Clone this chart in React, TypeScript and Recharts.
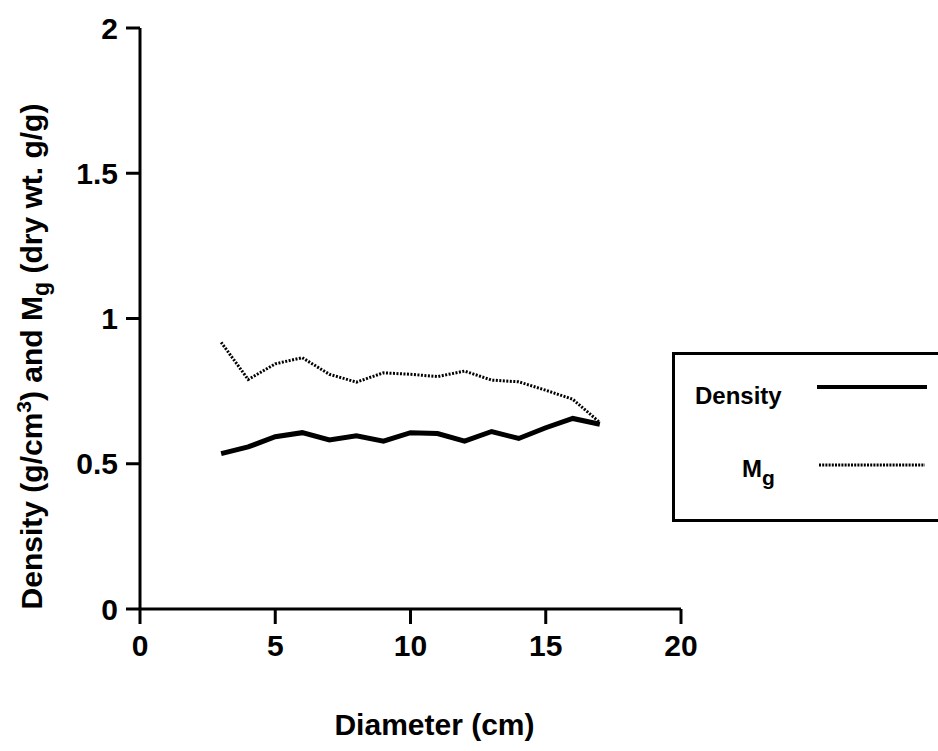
import React from "react";
import { LineChart, Line, XAxis, YAxis, Label } from "recharts";

// diameter classes (cm)
const diameters = [3, 4, 5, 6, 7, 8, 9, 10, 11, 12, 13, 14, 15, 16, 17];
// density, g/cm3
const density = [0.535, 0.558, 0.593, 0.607, 0.582, 0.596, 0.578, 0.607, 0.604, 0.578, 0.611, 0.587, 0.624, 0.656, 0.636];
// Mg, dry wt. g/g
const mg = [0.918, 0.79, 0.844, 0.865, 0.808, 0.781, 0.813, 0.808, 0.8, 0.819, 0.788, 0.782, 0.753, 0.722, 0.642];

const xTicks = [0, 5, 10, 15, 20];
const yTicks = [0, 0.5, 1, 1.5, 2];

const FONT = '"Liberation Sans", Arial, Helvetica, sans-serif';

const data = diameters.map((d, i) => ({ d, density: density[i], mg: mg[i] }));

// legend drawn outside the chart so it doesn't eat into the plot height
function LegendBox() {
  return (
    <div
      style={{
        position: "absolute",
        left: 672,
        top: 352,
        width: 290,
        height: 170,
        border: "3px solid #000",
        boxSizing: "border-box",
        background: "#fff",
      }}
    >
      <svg width={290} height={164} style={{ display: "block" }}>
        <text x={20} y={49} fontFamily={FONT} fontWeight="bold" fontSize={24} fill="#000">
          Density
        </text>
        <line x1={142} x2={252} y1={32} y2={32} stroke="#000" strokeWidth={4} />
        <text x={67} y={122} fontFamily={FONT} fontWeight="bold" fontSize={24} fill="#000">
          M<tspan dy={8} fontSize={21}>g</tspan>
        </text>
        <line x1={144} x2={250} y1={110} y2={110} stroke="#000" strokeWidth={3} strokeDasharray="2 1.2" />
      </svg>
    </div>
  );
}

export default function App() {
  return (
    <div style={{ position: "absolute", left: 0, top: 0, width: 938, height: 751, overflow: "hidden", background: "#fff" }}>
      <LineChart width={938} height={751} data={data} margin={{ top: 28, right: 257, bottom: 82, left: 60 }}>
        <XAxis
          dataKey="d"
          type="number"
          domain={[0, 20]}
          ticks={xTicks}
          axisLine={{ stroke: "#000", strokeWidth: 3 }}
          tickLine={{ stroke: "#000", strokeWidth: 3 }}
          tickSize={15}
          tickMargin={11}
          height={60}
          tick={{ fill: "#000", fontSize: 30, fontWeight: "bold", fontFamily: FONT }}
        >
          <Label
            content={({ viewBox }: any) => (
              <text
                x={viewBox.x + viewBox.width / 2 + 24}
                y={735}
                textAnchor="middle"
                fontFamily={FONT}
                fontWeight="bold"
                fontSize={30}
                fill="#000"
              >
                Diameter (cm)
              </text>
            )}
          />
        </XAxis>
        <YAxis
          type="number"
          domain={[0, 2]}
          ticks={yTicks}
          width={80}
          axisLine={{ stroke: "#000", strokeWidth: 3 }}
          tickLine={{ stroke: "#000", strokeWidth: 3 }}
          tickSize={14}
          tickMargin={8}
          tick={{ fill: "#000", fontSize: 30, fontWeight: "bold", fontFamily: FONT }}
        >
          <Label
            content={({ viewBox }: any) => {
              const cx = 42;
              const cy = viewBox.y + viewBox.height / 2 + 38;
              return (
                <text
                  x={cx}
                  y={cy}
                  transform={`rotate(-90, ${cx}, ${cy})`}
                  textAnchor="middle"
                  fontFamily={FONT}
                  fontWeight="bold"
                  fontSize={30}
                  fill="#000"
                >
                  Density (g/cm<tspan dy={-11} fontSize={21}>3</tspan>
                  <tspan dy={11}>) and  M</tspan>
                  <tspan dy={7} fontSize={23}>g</tspan>
                  <tspan dy={-7}> (dry wt. g/g)</tspan>
                </text>
              );
            }}
          />
        </YAxis>
        <Line
          dataKey="mg"
          name="Mg"
          stroke="#000"
          strokeWidth={3}
          strokeDasharray="2 1.5"
          dot={false}
          isAnimationActive={false}
        />
        <Line
          dataKey="density"
          name="Density"
          stroke="#000"
          strokeWidth={5}
          dot={false}
          isAnimationActive={false}
        />
      </LineChart>
      <LegendBox />
    </div>
  );
}
